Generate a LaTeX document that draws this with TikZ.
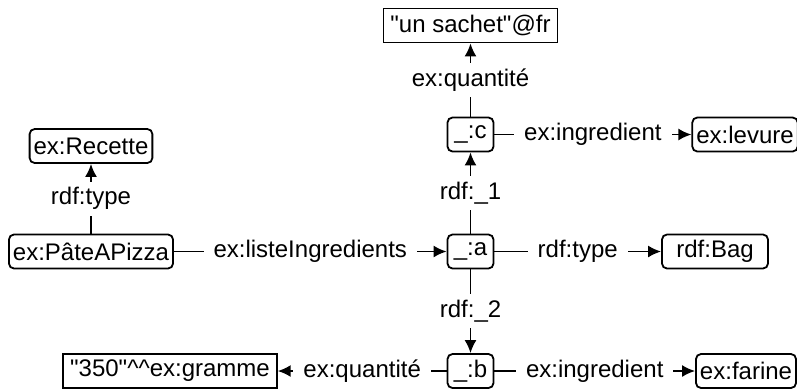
\documentclass[tikz,border=0pt]{standalone}
\usepackage{fontspec}
\setmainfont{Liberation Sans}
\usepackage{tikz}
\usetikzlibrary{arrows.meta}

\tikzset{
	res/.style={draw, rounded corners=2.5pt, minimum height=17pt, inner xsep=2pt, inner ysep=0pt},
	lit/.style={draw, minimum height=17pt, inner xsep=3.5pt, inner ysep=0pt},
	prop/.style={fill=white, inner xsep=5pt, inner ysep=3pt, midway},
	arc/.style={-{Latex[length=6.5pt,width=6pt]}}
}

\begin{document}
\begin{tikzpicture}[x=0.5pt, y=-0.5pt, font=\fontsize{12}{14}\selectfont, line width=0.9pt]
	\useasboundingbox (0,0) rectangle (797,388); % Rand um Grafik
	
	% Knoten
	\node[lit] (sachet) at (470.5,25.5) {\textquotedbl un sachet\textquotedbl @fr};
	\node[res] (recette) at (91,146) {ex:Recette};
	\node[res, minimum width=23pt] (c) at (470.5,134.5) {\_:c};
	\node[res] (levure) at (745,134.5) {ex:levure};
	\node[res] (pate) at (91,251.5) {ex:PâteAPizza};
	\node[res, minimum width=23pt] (a) at (470.5,251.5) {\_:a};
	\node[res, minimum width=53pt] (bag) at (715,251.5) {rdf:Bag};
	\node[lit] (gramme) at (170,371) {\textquotedbl 350\textquotedbl\textasciicircum\textasciicircum ex:gramme};
	\node[res, minimum width=23pt] (b) at (470.5,371) {\_:b};
	\node[res] (farine) at (746,371) {ex:farine};
	
	% Kanten
	\draw[arc] (c) -- node[prop] {ex:quantité} (sachet);
	\draw[arc] (c) -- node[prop] {ex:ingredient} (levure);
	\draw[arc] (pate) -- node[prop] {rdf:type} (recette);
	\draw[arc] (pate) -- node[prop] {ex:listeIngredients} (a);
	\draw[arc] (a) -- node[prop] {rdf:\_1} (c);
	\draw[arc] (a) -- node[prop] {rdf:type} (bag);
	\draw[arc] (a) -- node[prop] {rdf:\_2} (b);
	\draw[arc] (b) -- node[prop] {ex:quantité} (gramme);
	\draw[arc] (b) -- node[prop] {ex:ingredient} (farine);
\end{tikzpicture}
\end{document}
